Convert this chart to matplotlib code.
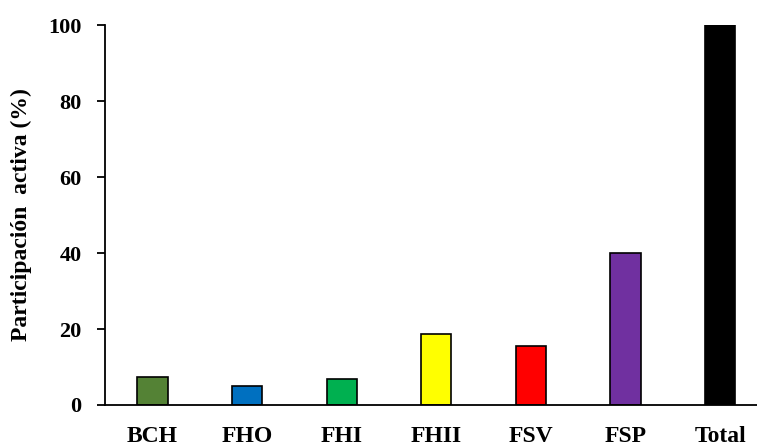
import matplotlib.pyplot as plt

categories = ['BCH', 'FHO', 'FHI', 'FHII', 'FSV', 'FSP', 'Total']
values = [7.4, 5.0, 6.8, 18.7, 15.6, 40.0, 100.0]
colors = ['#548235', '#0070C0', '#00B050', '#FFFF00', '#FF0000', '#7030A0', '#000000']
yticks = [0, 20, 40, 60, 80, 100]

plt.rcParams['font.family'] = ['Liberation Serif', 'DejaVu Serif']
plt.rcParams['font.weight'] = 'bold'

fig = plt.figure(figsize=(7.57, 4.48), dpi=100)
ax = fig.add_axes([0.139, 0.096, 0.861, 0.848])

x = range(len(categories))
ax.bar(x, values, width=0.32, color=colors, edgecolor='black', linewidth=1.2)

ax.set_xlim(-0.5, 6.39)
ax.set_ylim(0, 100)
ax.set_yticks(yticks)
ax.set_xticks(list(x))
ax.set_xticklabels(categories, fontsize=17, fontweight='bold')
ax.tick_params(axis='x', length=0, pad=15)
ax.tick_params(axis='y', length=6, width=1.3, labelsize=16, pad=11, direction='out')
for t in ax.get_yticklabels():
    t.set_fontweight('bold')

ax.spines['top'].set_visible(False)
ax.spines['right'].set_visible(False)
ax.spines['left'].set_linewidth(1.3)
ax.spines['bottom'].set_linewidth(1.3)

ax.set_ylabel('Participación  activa (%)', fontsize=17, fontweight='bold', labelpad=12)

fig.savefig('out.png', dpi=100)
